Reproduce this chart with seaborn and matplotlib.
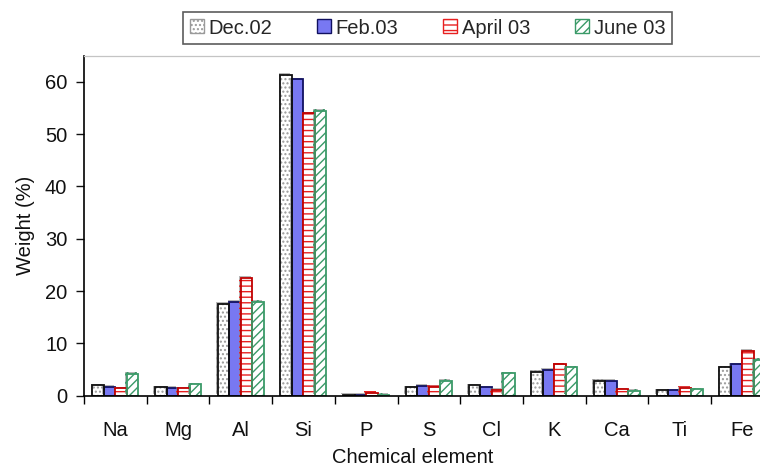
import matplotlib
matplotlib.use("Agg")
import matplotlib.pyplot as plt
import matplotlib.patheffects as pe
from matplotlib.patches import Rectangle
import seaborn as sns
import pandas as pd

elements = ["Na", "Mg", "Al", "Si", "P", "S", "Cl", "K", "Ca", "Ti", "Fe"]
periods = ["Dec.02", "Feb.03", "April 03", "June 03"]
dec02 = [2.0, 1.6, 17.6, 61.4, 0.2, 1.6, 2.0, 4.5, 2.8, 1.0, 5.4]
feb03 = [1.7, 1.5, 17.9, 60.5, 0.2, 1.9, 1.6, 5.0, 2.8, 1.0, 6.0]
apr03 = [1.4, 1.4, 22.5, 54.0, 0.5, 1.7, 1.1, 6.0, 1.2, 1.5, 8.6]
jun03 = [4.2, 2.2, 17.9, 54.4, 0.2, 2.8, 4.3, 5.4, 0.9, 1.2, 6.8]

rows = []
for name, vals in zip(periods, [dec02, feb03, apr03, jun03]):
    for el, v in zip(elements, vals):
        rows.append({"element": el, "period": name, "weight": v})
df = pd.DataFrame(rows)

sns.set_theme(style="white")
plt.rcParams["font.family"] = ["Liberation Sans", "DejaVu Sans"]
plt.rcParams["hatch.linewidth"] = 1.0

FS = 14.5

fig = plt.figure(figsize=(7.6, 4.69), dpi=100)
ax = fig.add_axes([84 / 760, 73.3 / 469, 689.7 / 760, 340 / 469])

sns.barplot(data=df, x="element", y="weight", hue="period",
            order=elements, hue_order=periods, width=0.735, gap=0,
            legend=False, ax=ax)

# fill, hatch and edge styles per series
styles = [
    dict(face="white", hatch="....", hcol="#9a9a9a", edge="#111111"),
    dict(face="#7878f2", hatch=None, hcol=None, edge="#101060"),
    dict(face="white", hatch="---", hcol="#e82020", edge="#c00000"),
    dict(face="white", hatch="////", hcol="#3a9a68", edge="#3a9a68"),
]
shadow = [pe.SimplePatchShadow(offset=(-1.2, 1.2), shadow_rgbFace="#888888", alpha=0.6),
          pe.Normal()]

for cont, st in zip(ax.containers, styles):
    for bar in cont:
        x, y = bar.get_x(), bar.get_y()
        w, h = bar.get_width(), bar.get_height()
        bar.set_facecolor(st["face"])
        bar.set_alpha(None)
        if st["hatch"]:
            bar.set_hatch(st["hatch"])
            bar.set_edgecolor(st["hcol"])
            bar.set_linewidth(0)
        else:
            bar.set_edgecolor(st["edge"])
            bar.set_linewidth(1.3)
        bar.set_path_effects(shadow)
        if st["hatch"]:
            ax.add_patch(Rectangle((x, y), w, h, facecolor="none",
                                   edgecolor=st["edge"], linewidth=1.3, zorder=bar.get_zorder() + 0.1))

ax.set_ylim(0, 65)
ax.set_xlim(-0.5, len(elements) - 0.5)
ax.set_yticks(range(0, 61, 10))
ax.set_xticks([i - 0.5 for i in range(len(elements))], minor=True)
ax.tick_params(axis="x", which="major", length=0, pad=18, labelsize=FS, colors="#111111")
ax.tick_params(axis="x", which="minor", length=6, width=1, direction="out", color="black", bottom=True)
ax.tick_params(axis="y", which="major", length=6, width=1, direction="out", pad=6,
               labelsize=FS, colors="#111111", left=True)

for side in ["left", "bottom"]:
    ax.spines[side].set_color("black")
    ax.spines[side].set_linewidth(1.2)
ax.spines["top"].set_color("#c4c4c4")
ax.spines["top"].set_linewidth(0.9)
ax.spines["right"].set_visible(False)

ax.set_xlabel("Chemical element", fontsize=FS, color="#111111")
ax.xaxis.set_label_coords((413 - 84) / 689.7, -(457 - 395.7) / 340, transform=ax.transAxes)
ax.xaxis.label.set_va("center")
ax.set_ylabel("Weight (%)", fontsize=FS, labelpad=7, color="#111111")

handles = []
for st in styles:
    handles.append(Rectangle((0, 0), 1, 1, facecolor=st["face"],
                             hatch=st["hatch"], edgecolor=st["hcol"] or st["edge"], linewidth=1))
leg = fig.legend(handles, periods, loc="center", bbox_to_anchor=(427.5 / 760, 1 - 28 / 469),
                 ncol=4, fontsize=FS, frameon=True, fancybox=False,
                 handlelength=0.7, handleheight=0.7, handletextpad=0.25,
                 columnspacing=2.2, borderpad=0.3, edgecolor="#333333")
leg.get_frame().set_linewidth(1.2)
for h, st in zip(leg.legend_handles, styles):
    h.set_edgecolor(st["edge"] if st["hatch"] is None else st["hcol"])

fig.savefig("out.png", dpi=100)
